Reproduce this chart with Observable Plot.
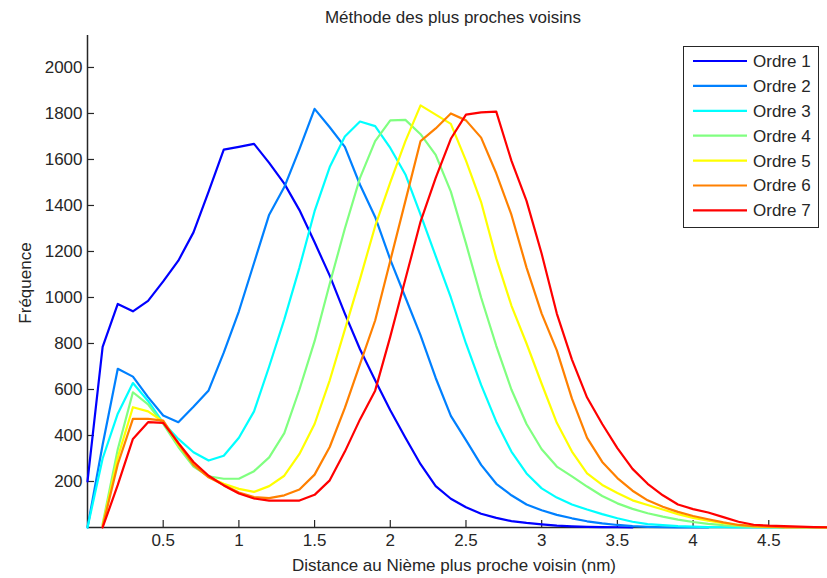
<!DOCTYPE html>
<html><head><meta charset="utf-8">
<script src="https://cdn.jsdelivr.net/npm/d3@7"></script>
<script src="https://cdn.jsdelivr.net/npm/@observablehq/plot@0.6"></script>
<style>
body{margin:0;background:#fff;font-family:"Liberation Sans",Arial,sans-serif;color:#262626}
#wrap{position:relative;width:827px;height:578px;overflow:hidden}
.lab{position:absolute;white-space:nowrap;font-size:17px;line-height:1}
#title{left:153px;width:600px;top:9px;text-align:center;font-size:17px}
#xlabel{left:154px;width:600px;top:557px;text-align:center}
#ylabel{left:25px;top:283px;transform:translate(-50%,-50%) rotate(-90deg)}
#legend{position:absolute;left:683px;top:46px;width:136px;height:182px;border:1px solid #262626;background:#fff;box-sizing:border-box}
</style></head><body>
<div id="wrap"><div id="chart"></div>
<div id="title" class="lab">Méthode des plus proches voisins</div>
<div id="xlabel" class="lab">Distance au Nième plus proche voisin (nm)</div>
<div id="ylabel" class="lab">Fréquence</div>
<div id="legend"></div></div>
<script>
const distance = [0,0.1,0.2,0.3,0.4,0.5,0.6,0.7,0.8,0.9,1.0,1.1,1.2,1.3,1.4,1.5,1.6,1.7,1.8,1.9,2.0,2.1,2.2,2.3,2.4,2.5,2.6,2.7,2.8,2.9,3.0,3.1,3.2,3.3,3.4,3.5,3.6,3.7,3.8,3.9,4.0,4.1,4.2,4.3,4.4,4.5,4.6,4.7,4.8,4.9];
const ordre1 = [200,785,972,940,985,1070,1160,1283,1460,1643,1655,1668,1585,1495,1380,1240,1095,930,775,640,510,390,275,180,125,88,60,42,28,20,14,8,5,3,2,1,0,null,null,null,null,null,null,null,null,null,null,null,null,null];
const ordre2 = [0,360,690,656,567,487,458,525,596,760,940,1150,1360,1480,1645,1820,1740,1655,1490,1350,1165,1000,835,650,485,380,272,190,140,100,75,55,40,27,18,11,6,3,1,0,0,0,null,null,null,null,null,null,null,null];
const ordre3 = [0,300,495,628,550,455,385,327,291,312,390,505,700,905,1130,1375,1567,1700,1765,1745,1650,1535,1360,1180,1000,800,620,460,330,235,170,130,100,78,58,40,25,15,10,6,4,2,1,0,0,0,0,null,null,null];
const ordre4 = [null,15,340,588,535,450,350,265,222,212,212,245,305,410,600,810,1060,1300,1520,1680,1770,1772,1710,1620,1460,1235,1000,790,600,450,340,265,222,178,137,105,81,62,47,34,24,16,10,6,3,2,1,0,0,0];
const ordre5 = [null,8,305,523,505,460,360,275,220,190,168,155,180,225,320,450,640,860,1080,1310,1500,1680,1835,1795,1755,1595,1415,1170,965,800,625,455,330,235,185,150,118,98,78,58,42,30,19,11,6,3,2,1,1,0];
const ordre6 = [null,4,275,472,472,465,365,272,218,185,152,132,128,140,165,230,350,520,710,900,1160,1420,1680,1735,1800,1770,1695,1540,1360,1130,930,770,560,390,285,215,160,118,90,68,50,36,22,11,6,4,2,1,1,0];
const ordre7 = [null,0,185,385,458,455,368,285,225,183,148,126,117,117,117,142,205,330,470,595,830,1080,1330,1520,1690,1795,1805,1808,1595,1420,1190,930,730,565,450,345,255,190,140,100,80,65,45,25,12,8,6,4,2,1];
const seriesNames = ["Ordre 1","Ordre 2","Ordre 3","Ordre 4","Ordre 5","Ordre 6","Ordre 7"];
const seriesColors = ["#0000ff","#0080ff","#00ffff","#80ff80","#ffff00","#ff8000","#ff0000"];
const xTicks = [0.5,1,1.5,2,2.5,3,3.5,4,4.5];
const yTicks = [200,400,600,800,1000,1200,1400,1600,1800,2000];

const allSeries = [ordre1,ordre2,ordre3,ordre4,ordre5,ordre6,ordre7];
const rows = [];
allSeries.forEach((vals, k) => {
  vals.forEach((v, i) => { if (v !== null) rows.push({x: distance[i], y: v, s: seriesNames[k]}); });
});

// inward tick length expressed in each scale's units (7px)
const yTickLen = 7 * 2139 / 492;
const xTickLen = 7 * 4.888 / 740;

const chart = Plot.plot({
  width: 827, height: 578,
  marginLeft: 87, marginRight: 0, marginTop: 35, marginBottom: 51,
  style: {fontFamily: "'Liberation Sans', Arial, sans-serif", fontSize: "17px", color: "#262626", background: "#fff"},
  x: {domain: [0, 4.888]},
  y: {domain: [0, 2139]},
  color: {domain: seriesNames, range: seriesColors},
  marks: [
    Plot.axisX({ticks: xTicks, tickSize: 0, tickPadding: 6, label: null, tickFormat: d => String(d)}),
    Plot.axisY({ticks: yTicks, tickSize: 0, tickPadding: 5, label: null, tickFormat: d => String(d)}),
    Plot.ruleX(xTicks, {y1: 0, y2: yTickLen, stroke: "#262626", strokeWidth: 1.2}),
    Plot.ruleY(yTicks, {x1: 0, x2: xTickLen, stroke: "#262626", strokeWidth: 1.2}),
    Plot.ruleY([0], {stroke: "#262626", strokeWidth: 1.5}),
    Plot.ruleX([0], {stroke: "#262626", strokeWidth: 1.5}),
    Plot.line(rows, {x: "x", y: "y", z: "s", stroke: "s", strokeWidth: 2.2})
  ]
});
document.getElementById("chart").appendChild(chart);

const leg = document.getElementById("legend");
const ns = "http://www.w3.org/2000/svg";
const lsvg = document.createElementNS(ns, "svg");
lsvg.setAttribute("width", 134); lsvg.setAttribute("height", 180);
lsvg.style.position = "absolute"; lsvg.style.left = "0"; lsvg.style.top = "0";
seriesNames.forEach((name, i) => {
  const yy = 14 + i * 24.9;
  const ln = document.createElementNS(ns, "line");
  ln.setAttribute("x1", 9); ln.setAttribute("x2", 63);
  ln.setAttribute("y1", yy); ln.setAttribute("y2", yy);
  ln.setAttribute("stroke", seriesColors[i]); ln.setAttribute("stroke-width", 2.2);
  lsvg.appendChild(ln);
  const tx = document.createElementNS(ns, "text");
  tx.setAttribute("x", 69); tx.setAttribute("y", yy);
  tx.setAttribute("dy", "0.35em");
  tx.setAttribute("font-size", "17px");
  tx.setAttribute("font-family", "'Liberation Sans', Arial, sans-serif");
  tx.setAttribute("fill", "#262626");
  tx.textContent = name;
  lsvg.appendChild(tx);
});
leg.appendChild(lsvg);
</script>
</body></html>
